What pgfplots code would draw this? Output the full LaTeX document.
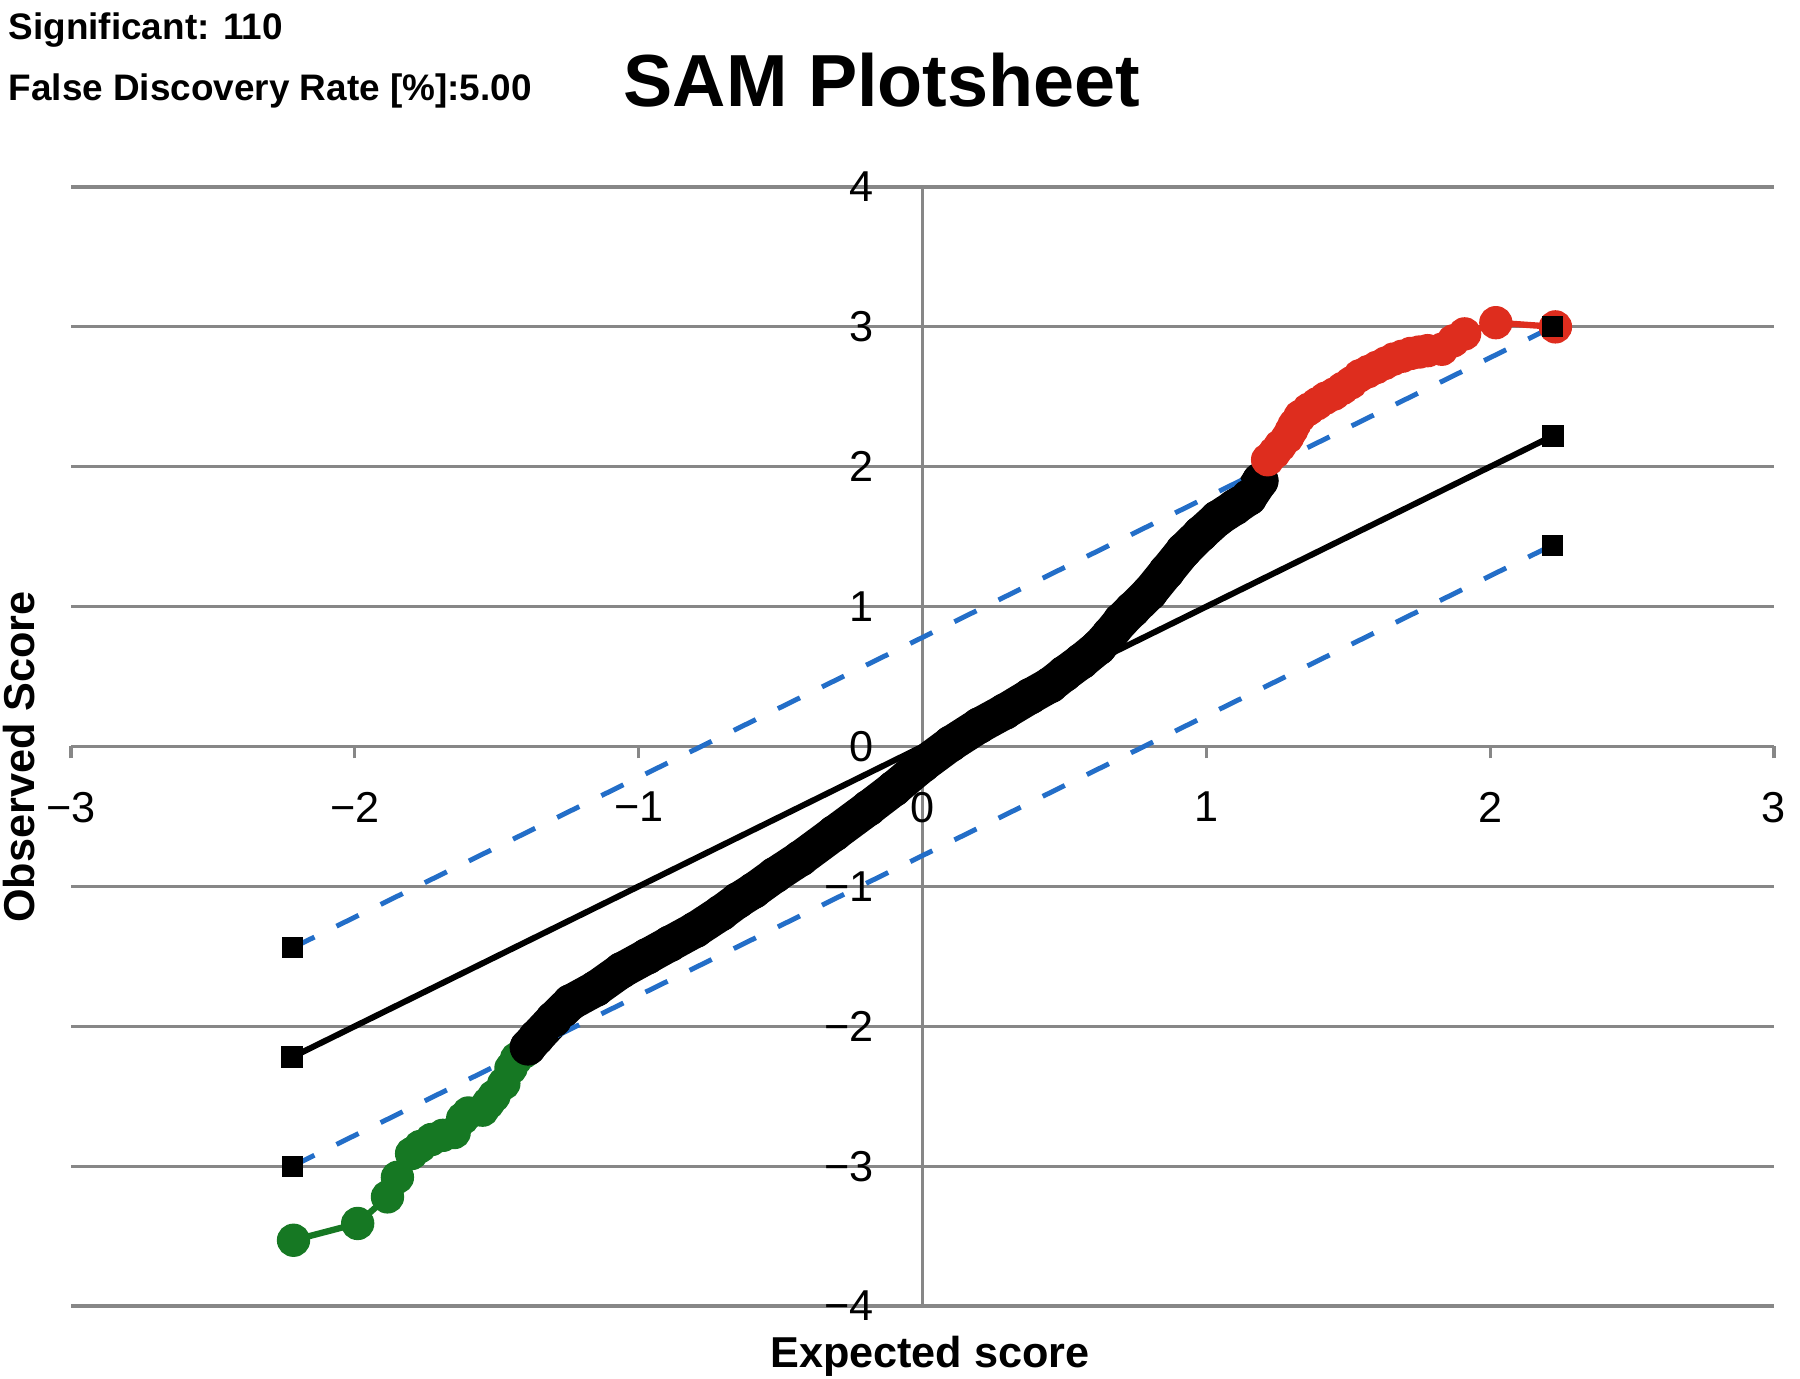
\documentclass[border=0pt]{standalone}
\usepackage{pgfplots}
\pgfplotsset{compat=1.18}
\usepackage{fontspec}
\setmainfont{Liberation Sans}

\definecolor{samred}{RGB}{222,45,30}
\definecolor{samgreen}{RGB}{22,120,35}
\definecolor{samblue}{RGB}{35,110,200}
\definecolor{gridgray}{RGB}{135,135,135}

\begin{document}
\begin{tikzpicture}
\path[use as bounding box] (0,0) rectangle (18,13.79);
\begin{axis}[
  at={(0.71cm,0.73cm)}, anchor=south west,
  scale only axis, width=17.03cm, height=11.19cm,
  xmin=-3, xmax=3, ymin=-4, ymax=4,
  axis lines=middle, clip=false,
  axis line style={gridgray, line width=0.9pt, -},
  xtick={-3,...,3}, ytick={-4,...,4},
  xticklabels={−3,−2,−1,0,1,2,3},
  yticklabels={−4,−3,−2,−1,0,1,2,3,4},
  hide obscured x ticks=false, hide obscured y ticks=false,
  ymajorgrids, grid style={gridgray, line width=0.9pt},
  major tick length=0.12cm,
  xtick align=outside,
  xtick style={gridgray, line width=0.9pt},
  ytick style={draw=none},
  tick label style={font=\fontsize{12.3}{14}\selectfont, inner sep=0pt},
  xticklabel style={anchor=north, yshift=-0.33cm},
  yticklabel style={anchor=east, xshift=-0.42cm},
]
% negative significant genes
\addplot[samgreen, line width=1.8pt, mark=*, mark size=0.135cm] coordinates {
  (-2.216,-3.53) (-1.99,-3.41) (-1.885,-3.22) (-1.85,-3.08) (-1.80,-2.91)
  (-1.77,-2.86) (-1.73,-2.81) (-1.69,-2.78) (-1.65,-2.76) (-1.62,-2.66)
  (-1.60,-2.62) (-1.55,-2.60) (-1.53,-2.55) (-1.51,-2.50) (-1.475,-2.41)
  (-1.45,-2.30) (-1.43,-2.23) (-1.40,-2.18)
};
% non-significant genes
\addplot[black, line width=0.36cm, line join=round, line cap=round,
  mark=*, mark size=0.18cm, mark options={line width=0.2pt}] coordinates {
  (-1.39,-2.15) (-1.36,-2.08) (-1.30,-1.95) (-1.24,-1.83) (-1.15,-1.73)
  (-1.06,-1.60) (-0.97,-1.50) (-0.89,-1.41) (-0.80,-1.31) (-0.71,-1.19)
  (-0.65,-1.10) (-0.595,-1.03) (-0.52,-0.92) (-0.43,-0.80) (-0.31,-0.62)
  (-0.19,-0.44) (-0.10,-0.30) (0.00,-0.13) (0.10,0.02) (0.20,0.15)
  (0.29,0.25) (0.38,0.36) (0.45,0.44) (0.50,0.52) (0.56,0.61)
  (0.62,0.71) (0.66,0.80) (0.70,0.90) (0.74,0.98) (0.80,1.10)
  (0.86,1.25) (0.92,1.40) (0.98,1.52) (1.04,1.63) (1.10,1.71)
  (1.15,1.78) (1.19,1.90)
};
% positive significant genes
\addplot[samred, line width=1.8pt, mark=*, mark size=0.135cm] coordinates {
  (1.216,2.05) (1.24,2.10) (1.26,2.15) (1.286,2.21) (1.30,2.26)
  (1.31,2.30) (1.33,2.36) (1.36,2.41) (1.39,2.45) (1.42,2.49)
  (1.45,2.52) (1.48,2.56) (1.51,2.60) (1.54,2.65) (1.57,2.68)
  (1.60,2.71) (1.63,2.74) (1.66,2.77) (1.69,2.79) (1.72,2.81)
  (1.75,2.82) (1.78,2.83) (1.83,2.84) (1.87,2.90) (1.91,2.95)
  (2.02,3.03) (2.23,3.00)
};
% reference lines
\addplot[black, line width=1.7pt, mark=square*, mark size=0.08cm] coordinates {
  (-2.22,-2.22) (2.22,2.22)
};
\addplot[samblue, line width=1.4pt, dash pattern=on 7pt off 7pt,
  mark=square*, mark size=0.08cm, mark options={solid, fill=black, draw=black}] coordinates {
  (-2.22,-1.44) (2.22,3.00)
};
\addplot[samblue, line width=1.4pt, dash pattern=on 7pt off 7pt,
  mark=square*, mark size=0.08cm, mark options={solid, fill=black, draw=black}] coordinates {
  (-2.22,-3.00) (2.22,1.44)
};
\end{axis}
\node[anchor=base west, inner sep=0pt, font=\bfseries\fontsize{10.5}{12}\selectfont] at (0.08,13.39) {Significant: 110};
\node[anchor=base west, inner sep=0pt, font=\bfseries\fontsize{10.5}{12}\selectfont] at (0.08,12.78) {False Discovery Rate [\%]:5.00};
\node[anchor=base west, inner sep=0pt, font=\bfseries\fontsize{21}{24}\selectfont] at (6.23,12.72) {SAM Plotsheet};
\node[anchor=base, inner sep=0pt, font=\bfseries\fontsize{12.3}{14}\selectfont] at (9.30,0.11) {Expected score};
\node[anchor=base, rotate=90, inner sep=0pt, font=\bfseries\fontsize{12.3}{14}\selectfont] at (0.34,6.22) {Observed Score};
\end{tikzpicture}
\end{document}
